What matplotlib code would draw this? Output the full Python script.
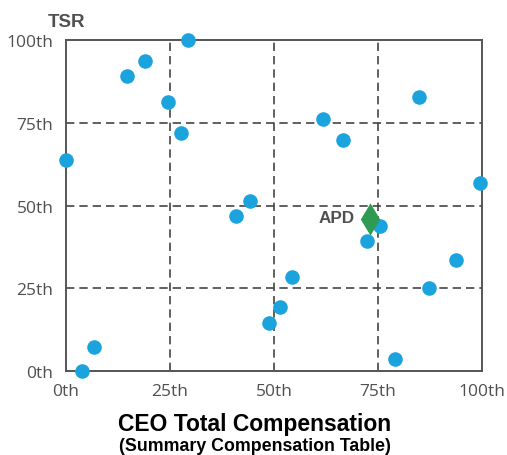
import matplotlib
matplotlib.use("Agg")
import matplotlib.pyplot as plt

# Data (percentiles)
comp = [0, 3.8, 6.7, 14.7, 19.0, 24.5, 27.6, 29.3, 40.9, 44.2, 54.3, 51.4, 48.8,
        61.8, 66.6, 72.4, 75.5, 79.0, 84.9, 87.3, 93.8, 99.5]
tsr = [63.7, 0, 7.3, 89.0, 93.7, 81.3, 72.0, 100, 46.8, 51.4, 28.4, 19.3, 14.5,
       76.0, 69.8, 39.3, 43.8, 3.6, 82.8, 25.0, 33.5, 56.8]
apd_comp = [73.1]
apd_tsr = [46.0]
ticks = [0, 25, 50, 75, 100]
tick_labels = ["0th", "25th", "50th", "75th", "100th"]

fig = plt.figure(figsize=(5.07, 4.56), dpi=100)
ax = fig.add_axes([0.130, 0.184, 0.821, 0.726])
ax.set_xlim(0, 100)
ax.set_ylim(0, 100)

gray = "#505050"
for v in [25, 50, 75]:
    ax.axvline(v, color="#444444", lw=1.2, ls=(0, (5, 3)), zorder=1)
    ax.axhline(v, color="#444444", lw=1.2, ls=(0, (5, 3)), zorder=1)

for s in ax.spines.values():
    s.set_color("#555555")
    s.set_linewidth(1.4)

ax.scatter(comp, tsr, s=110, color="#1aa3dc", zorder=3, clip_on=False, linewidths=0)
ax.scatter(apd_comp, apd_tsr, s=270, marker="d", color="#2e9a52", zorder=4,
           clip_on=False, linewidths=0)
ax.text(apd_comp[0] - 3.7, apd_tsr[0] + 0.5, "APD", ha="right", va="center",
        fontsize=12.3, fontweight="bold", color=gray, family="Liberation Sans")

ax.set_xticks(ticks)
ax.set_xticklabels(tick_labels)
ax.set_yticks(ticks)
ax.set_yticklabels(tick_labels)
ax.tick_params(length=0, labelsize=12.5, labelcolor=gray)
ax.tick_params(axis="y", pad=9)
ax.tick_params(axis="x", pad=8.3)
for lab in ax.get_xticklabels() + ax.get_yticklabels():
    lab.set_family("Open Sans")

fig.text(0.0947, 0.951, "TSR", ha="left", va="center", fontsize=13.5,
         fontweight="bold", color=gray, family="Liberation Sans")
fig.text(0.502, 0.068, "CEO Total Compensation", ha="center", va="center",
         fontsize=16.5, fontweight="bold", color="black", family="Liberation Sans")
fig.text(0.502, 0.020, "(Summary Compensation Table)", ha="center", va="center",
         fontsize=12.8, fontweight="bold", color="black", family="Liberation Sans")

fig.savefig("out.png", dpi=100, facecolor="white")
